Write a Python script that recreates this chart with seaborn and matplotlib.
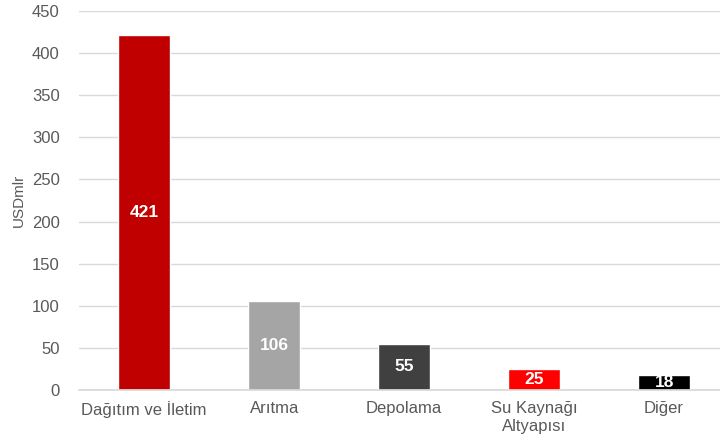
import matplotlib
matplotlib.use("Agg")
import matplotlib.pyplot as plt
import seaborn as sns
import pandas as pd

categories = ["Dağıtım ve İletim", "Arıtma", "Depolama", "Su Kaynağı\nAltyapısı", "Diğer"]
values = [421, 106, 55, 25, 18]
colors = ["#C00000", "#A5A5A5", "#404040", "#FF0000", "#000000"]

df = pd.DataFrame({"kategori": categories, "deger": values})

sns.set_theme(style="white")
plt.rcParams["font.family"] = ["Liberation Sans", "DejaVu Sans"]

fig = plt.figure(figsize=(7.2, 4.41), dpi=100)
ax = fig.add_axes([0.11, 0.1156, 0.89, 0.8594])

sns.barplot(data=df, x="kategori", y="deger", hue="kategori", palette=colors,
            width=0.4, legend=False, ax=ax, saturation=1)

# value labels in the middle of each bar
for i, v in enumerate(values):
    ax.text(i, v / 2, str(v), ha="center", va="center", color="white",
            fontsize=12.5, fontweight="bold")

ax.set_xlim(-0.5, 4.43)
ax.set_ylim(0, 450)
ax.set_yticks(range(0, 451, 50))
ax.yaxis.grid(True, color="#D9D9D9", linewidth=1)
ax.set_axisbelow(True)
for s in ["top", "right", "left"]:
    ax.spines[s].set_visible(False)
ax.spines["bottom"].set_color("#D9D9D9")
ax.tick_params(axis="both", length=0, labelsize=12, labelcolor="#595959")
ax.tick_params(axis="y", pad=14)
ax.tick_params(axis="x", pad=8)
ax.set_xlabel("")
ax.set_ylabel("USDmlr", fontsize=11, color="#595959", labelpad=4)

fig.savefig("out.png", dpi=100)
